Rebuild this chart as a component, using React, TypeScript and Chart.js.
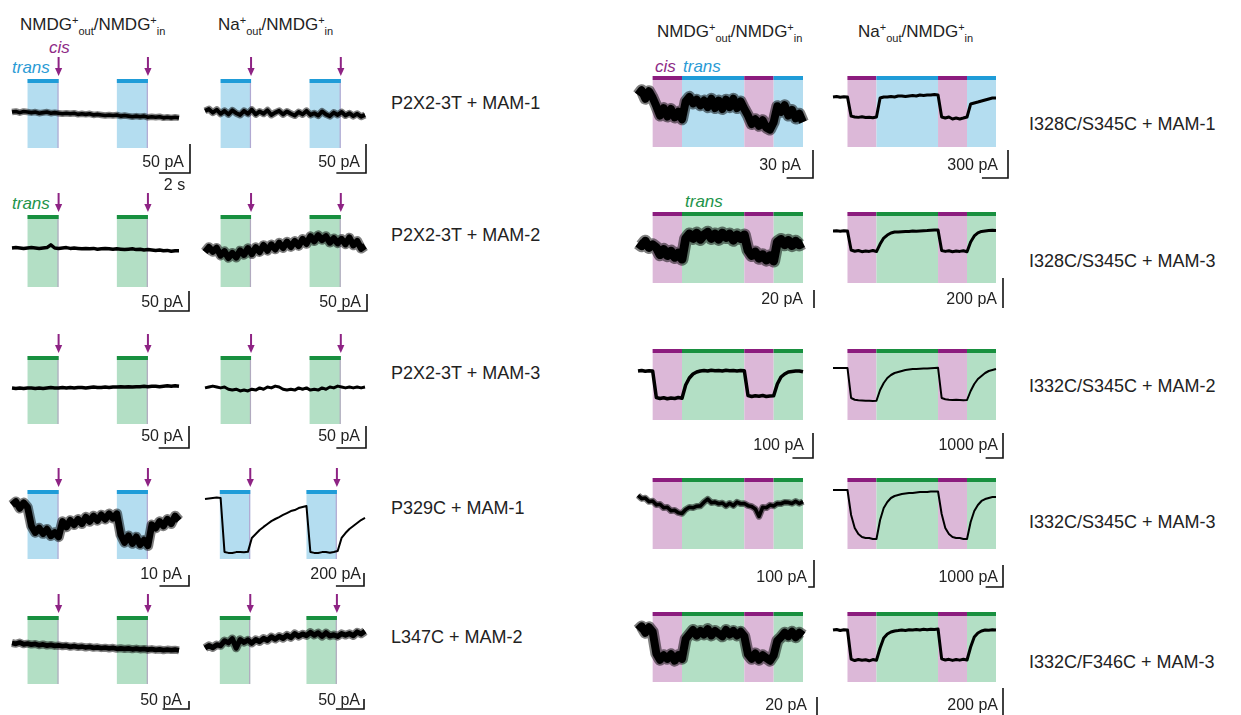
import React, { useEffect, useRef } from 'react';
import { Chart, registerables } from 'chart.js';
Chart.register(...registerables);

const FONT = '"Liberation Sans", Arial, Helvetica, sans-serif';
const COL = {
  blueFill: '#b4ddf0', blueBar: '#1f9cd8',
  greenFill: '#b3dfc5', greenBar: '#18903f',
  pinkFill: '#dcb8d8', purpleBar: '#8c1c7e',
  arrow: '#8e2384', edge: 'rgba(175,125,185,0.55)', ink: '#222',
  cis: '#8e2a86', transBlue: '#2b9bd5', transGreen: '#23944a',
};

// sampling interval of all traces (s)
const DT = 0.25;

// stimulus windows, seconds
const stimLeftA = [[1.0, 3.0], [6.75, 8.75]];
const stimLeftB = [[1.0, 2.95], [6.7, 8.7]];
const stimLeftB45 = [[0.95, 2.9], [6.5, 8.45]];
const segStart = [1.0, 3.0, 7.25, 9.25];
const segEnd = [3.0, 7.25, 9.25, 11.25];
const segKind = ['cis', 'trans', 'cis', 'trans'];

// row labels
const leftLabels = ['P2X2-3T + MAM-1', 'P2X2-3T + MAM-2', 'P2X2-3T + MAM-3', 'P329C + MAM-1', 'L347C + MAM-2'];
const rightLabels = ['I328C/S345C + MAM-1', 'I328C/S345C + MAM-3', 'I332C/S345C + MAM-2', 'I332C/S345C + MAM-3', 'I332C/F346C + MAM-3'];

// scale bar values (pA)
const scaleLeftA = [50, 50, 50, 10, 50];
const scaleLeftB = [50, 50, 50, 200, 50];
const scaleRightC = [30, 20, 100, 100, 20];
const scaleRightD = [300, 200, 1000, 1000, 200];

// current traces, pA, sampled every DT
const r1a = [0,1,-1,1,0,-1,0,-2,-1,0,-2,-1,-2,-3,-2,-3,-2,-4,-3,-4,-3,-5,-4,-5,-6,-5,-6,-5,-7,-6,-7,-8,-7,-8,-7,-9,-8,-9,-8,-10,-9,-10,-9,-10];
const r1b = [2,5,-1,4,-3,2,-4,3,-2,-5,2,-3,4,-4,1,-3,3,-5,-1,2,-4,1,-3,-6,0,-4,2,-5,-2,-6,1,-4,-7,-1,-5,0,-6,-2,-7,-3,-8,-5];
const r2a = [0,1,0,-1,0,1,0,-1,0,1,8,0,-1,0,1,-1,0,-1,-2,-1,-2,-1,-3,-2,-1,-2,-3,-2,-3,-4,-3,-2,-4,-3,-5,-4,-5,-6,-5,-7,-6,-8,-7,-7];
const r2b = [0,14,1,12,-10,2,-17,-3,-16,4,-8,11,-6,14,0,20,4,22,8,27,12,30,15,32,18,38,24,46,32,49,36,46,28,40,26,38,23,42,20,32,10,18];
const r3a = [0,-1,0,-1,0,0,-1,0,-1,0,1,0,0,1,0,1,0,1,1,0,1,2,1,1,2,1,2,2,3,2,3,2,3,3,4,3,4,4,3,4,5,4,5,4];
const r3b = [-2,0,2,0,-2,0,-5,-7,-5,-9,-7,-9,-5,-7,-2,-5,0,-2,2,0,-5,-7,-5,-7,-2,-5,-2,-7,-5,-7,-2,-5,0,-2,2,0,-2,0,-2,0,-2,0];
const r4a = [0,3,-3,2,-2,-19,-25,-21,-26,-22,-28,-25,-29,-15,-20,-14,-18,-13,-17,-11,-15,-10,-14,-9,-13,-8,-12,-8,-27,-34,-28,-35,-29,-36,-32,-37,-18,-21,-15,-19,-13,-17,-10,-14];
const r4b = [0,8,15,23,15,-816,-830,-832,-818,-815,-820,-814,-600,-540,-478,-430,-385,-340,-308,-278,-246,-216,-186,-170,-140,-124,-108,-816,-830,-832,-818,-815,-828,-816,-800,-600,-524,-462,-416,-370,-324,-292];
const r5a = [0,-5,3,-8,-4,-10,-6,-14,-9,-16,-12,-18,-15,-20,-17,-24,-19,-25,-22,-28,-24,-30,-27,-32,-29,-34,-30,-36,-33,-37,-34,-39,-35,-40,-37,-42,-38,-43,-40,-45,-41,-44,-42,-46];
const r5b = [0,12,2,16,12,36,26,46,0,42,28,40,24,42,32,48,38,56,44,58,48,64,52,72,58,70,62,78,64,76,58,76,60,66,58,72,64,72,62,80,70,84];

const r1c = [0,5,-4,4,-3,-12,-22,-14,-23,-15,-24,-18,-26,-7,-2,-9,-5,-11,-6,-13,-4,-14,-6,-15,-5,-13,-4,-14,-7,-15,-22,-31,-26,-33,-27,-35,-37,-29,-12,-18,-11,-22,-16,-25,-20,-29];
const r1d = [0,5,-3,2,0,-205,-214,-218,-212,-220,-216,-222,-214,-11,0,0,5,0,11,11,5,11,16,11,21,16,21,21,27,21,-214,-225,-214,-235,-225,-235,-225,-214,-75,-64,-54,-43,-32,-21,-11,-11];
const r2c = [0,-3,2,-5,-2,-5,-13,-7,-14,-9,-16,-11,-18,5,10,5,11,4,9,12,5,10,4,11,6,10,3,9,5,9,-8,-14,-10,-17,-13,-19,-14,-20,1,4,-2,3,-3,2,-2,0];
const r2d = [0,1,-1,2,0,-127,-135,-130,-138,-133,-136,-130,-137,-87,-47,-27,-13,-7,-7,-5,-3,-3,0,-2,0,2,3,5,6,7,-130,-136,-132,-138,-134,-136,-132,-138,-73,-33,-13,-3,0,3,5,4];
const r3c = [0,2,-1,1,0,-106,-110,-107,-111,-108,-110,-106,-109,-56,-28,-12,-4,0,2,0,3,1,2,0,3,1,2,0,2,1,-98,-102,-99,-101,-98,-102,-100,-99,-52,-24,-12,-4,-2,0,0,-3];
const r3d = [0,0,4,0,0,-1200,-1270,-1290,-1300,-1310,-1310,-1320,-1310,-880,-600,-400,-280,-200,-160,-120,-80,-60,-40,-40,-30,-20,-20,-10,0,10,-1200,-1250,-1270,-1280,-1270,-1280,-1290,-1280,-920,-640,-440,-320,-200,-120,-80,-40];
const r4c = [6,-6,-4,-17,-15,-29,-27,-40,-38,-51,-49,-58,-61,-46,-38,-40,-34,-33,-19,-8,-21,-19,-25,-22,-33,-23,-32,-19,-25,-24,-32,-35,-44,-72,-38,-40,-30,-33,-24,-25,-19,-20,-24,-16,-24,-17];
const r4d = [0,-5,0,5,0,-1138,-1729,-2002,-2139,-2184,-2184,-2230,-2230,-1365,-819,-546,-364,-273,-228,-182,-159,-137,-137,-114,-91,-91,-91,-68,-68,-68,-1092,-1729,-2002,-2139,-2184,-2184,-2230,-2230,-1456,-956,-683,-500,-410,-364,-319,-319];
const r5c = [0,4,-3,3,-2,-26,-33,-28,-32,-27,-34,-28,-32,-10,-5,0,-6,-1,-5,1,-6,-1,-4,-7,0,-5,-1,-6,-2,-7,-27,-32,-26,-33,-28,-31,-34,-28,-12,-8,-3,-7,-2,-8,-3,-6];
const r5d = [0,4,-4,2,0,-215,-226,-218,-224,-220,-228,-219,-224,-133,-59,-30,-15,-7,-4,0,-3,2,0,4,0,5,2,6,4,7,-214,-222,-217,-225,-218,-223,-216,-222,-126,-52,-22,-7,0,-2,2,0];

type Panel = {
  key: string; side: 'L' | 'R';
  left: number; top: number; width: number; height: number;
  tEnd: number; yMin: number; yMax: number;
  trace: number[]; lw: number;
  stim: number[][]; sol: 'blue' | 'green';
  scale: number; hSec: number; timeText?: string;
  dx: number; dy: number; gap: number; ldy: number;
};

const LA = { left: 12, width: 167, tEnd: 10.75 };
const LB = { left: 205, width: 160, tEnd: 10.25 };
const RC = { left: 638, width: 165, tEnd: 11.25 };
const RD = { left: 833, width: 163, tEnd: 11.25 };

const panels: Panel[] = [
  // left column A
  { key: 'r1a', side: 'L', ...LA, top: 79, height: 69, yMin: -62, yMax: 57, trace: r1a, lw: 4.5, stim: stimLeftA, sol: 'blue', scale: scaleLeftA[0], hSec: 2, timeText: '2 s', dx: 11, dy: 25, gap: 6, ldy: -12 },
  { key: 'r2a', side: 'L', ...LA, top: 215, height: 72, yMin: -97.5, yMax: 82.5, trace: r2a, lw: 3.5, stim: stimLeftA, sol: 'green', scale: scaleLeftA[1], hSec: 1.95, dx: 10, dy: 24, gap: 6, ldy: -10 },
  { key: 'r3a', side: 'L', ...LA, top: 356, height: 68, yMin: -81.7, yMax: 72.6, trace: r3a, lw: 3.5, stim: stimLeftA, sol: 'green', scale: scaleLeftA[2], hSec: 1.95, dx: 10, dy: 24, gap: 6, ldy: -13 },
  { key: 'r4a', side: 'L', ...LA, top: 490, height: 69, yMin: -49.1, yMax: 13.65, trace: r4a, lw: 8.5, stim: stimLeftA, sol: 'blue', scale: scaleLeftA[3], hSec: 1.9, dx: 10, dy: 27, gap: 7, ldy: -13 },
  { key: 'r5a', side: 'L', ...LA, top: 616, height: 68, yMin: -256, yMax: 168.75, trace: r5a, lw: 6, stim: stimLeftA, sol: 'green', scale: scaleLeftA[4], hSec: 1.7, dx: 10, dy: 25, gap: 7, ldy: -10 },
  // left column B
  { key: 'r1b', side: 'L', ...LB, top: 79, height: 69, yMin: -62, yMax: 57, trace: r1b, lw: 5, stim: stimLeftB, sol: 'blue', scale: scaleLeftB[0], hSec: 1.9, dx: 1, dy: 25, gap: 6, ldy: -12 },
  { key: 'r2b', side: 'L', ...LB, top: 215, height: 72, yMin: -102.9, yMax: 108.8, trace: r2b, lw: 8, stim: stimLeftB, sol: 'green', scale: scaleLeftB[1], hSec: 1.9, dx: 2, dy: 24, gap: 6, ldy: -10 },
  { key: 'r3b', side: 'L', ...LB, top: 356, height: 68, yMin: -84, yMax: 70.4, trace: r3b, lw: 3, stim: stimLeftB, sol: 'green', scale: scaleLeftB[2], hSec: 1.9, dx: 1, dy: 24, gap: 6, ldy: -13 },
  { key: 'r4b', side: 'L', ...LB, top: 490, height: 69, yMin: -924, yMax: 138.6, trace: r4b, lw: 2, stim: stimLeftB45, sol: 'blue', scale: scaleLeftB[3], hSec: 1.8, dx: -1, dy: 27, gap: 3, ldy: -13 },
  { key: 'r5b', side: 'L', ...LB, top: 616, height: 68, yMin: -180, yMax: 160, trace: r5b, lw: 6.5, stim: stimLeftB45, sol: 'green', scale: scaleLeftB[4], hSec: 1.8, dx: -1, dy: 25, gap: 4, ldy: -10 },
  // right column C
  { key: 'r1c', side: 'R', ...RC, top: 76, height: 71, yMin: -55.6, yMax: 20.3, trace: r1c, lw: 10, stim: [], sol: 'blue', scale: scaleRightC[0], hSec: 1.8, dx: 10, dy: 31, gap: 12, ldy: -14 },
  { key: 'r2c', side: 'R', ...RC, top: 212, height: 71, yMin: -44.4, yMax: 34.4, trace: r2c, lw: 11, stim: [], sol: 'green', scale: scaleRightC[1], hSec: 0, dx: 11, dy: 25, gap: 11, ldy: -10 },
  { key: 'r3c', side: 'R', ...RC, top: 349, height: 71, yMin: -196, yMax: 88, trace: r3c, lw: 3.5, stim: [], sol: 'green', scale: scaleRightC[2], hSec: 1.4, dx: 10, dy: 38, gap: 9, ldy: -14 },
  { key: 'r4c', side: 'R', ...RC, top: 478, height: 71, yMin: -192.4, yMax: 70.3, trace: r4c, lw: 4.5, stim: [], sol: 'green', scale: scaleRightC[3], hSec: 0.4, dx: 11, dy: 38, gap: 7, ldy: -11 },
  { key: 'r5c', side: 'R', ...RC, top: 612, height: 70, yMin: -57.7, yMax: 20, trace: r5c, lw: 10, stim: [], sol: 'green', scale: scaleRightC[4], hSec: 0, dx: 14, dy: 33, gap: 10, ldy: -11 },
  // right column D
  { key: 'r1d', side: 'R', ...RD, top: 76, height: 71, yMin: -535, yMax: 224.7, trace: r1d, lw: 3, stim: [], sol: 'blue', scale: scaleRightD[0], hSec: 1.8, dx: 12, dy: 31, gap: 10, ldy: -14 },
  { key: 'r2d', side: 'R', ...RD, top: 212, height: 71, yMin: -346.8, yMax: 126.7, trace: r2d, lw: 3, stim: [], sol: 'green', scale: scaleRightD[1], hSec: 0, dx: 7, dy: 25, gap: 6, ldy: -10 },
  { key: 'r3d', side: 'R', ...RD, top: 349, height: 71, yMin: -2080, yMax: 760, trace: r3d, lw: 2, stim: [], sol: 'green', scale: scaleRightD[2], hSec: 1.2, dx: 7, dy: 38, gap: 5, ldy: -14 },
  { key: 'r4d', side: 'R', ...RD, top: 478, height: 71, yMin: -2684.5, yMax: 546, trace: r4d, lw: 2, stim: [], sol: 'green', scale: scaleRightD[3], hSec: 1.2, dx: 7, dy: 38, gap: 5, ldy: -11 },
  { key: 'r5d', side: 'R', ...RD, top: 612, height: 70, yMin: -384.8, yMax: 133.2, trace: r5d, lw: 3, stim: [], sol: 'green', scale: scaleRightD[4], hSec: 0, dx: 7, dy: 33, gap: 5, ldy: -11 },
];

const PAD = { left: 12, right: 34, top: 30, bottom: 52 };

function drawArrow(ctx: CanvasRenderingContext2D, x: number, y0: number, y1: number) {
  ctx.strokeStyle = COL.arrow;
  ctx.fillStyle = COL.arrow;
  ctx.lineWidth = 2;
  ctx.beginPath();
  ctx.moveTo(x, y0);
  ctx.lineTo(x, y1 - 6);
  ctx.stroke();
  ctx.beginPath();
  ctx.moveTo(x - 3.6, y1 - 8);
  ctx.lineTo(x + 3.6, y1 - 8);
  ctx.lineTo(x, y1);
  ctx.closePath();
  ctx.fill();
}

function makePlugin(p: Panel) {
  return {
    id: 'panel_' + p.key,
    beforeDatasetsDraw(chart: any) {
      const { ctx, chartArea: a, scales } = chart;
      const x = scales.x;
      const h = a.bottom - a.top;
      const transFill = p.sol === 'blue' ? COL.blueFill : COL.greenFill;
      const transBar = p.sol === 'blue' ? COL.blueBar : COL.greenBar;
      ctx.save();
      if (p.side === 'L') {
        p.stim.forEach(([t0, t1]) => {
          const x0 = x.getPixelForValue(t0);
          const x1 = x.getPixelForValue(t1);
          ctx.fillStyle = transFill;
          ctx.fillRect(x0, a.top, x1 - x0, h);
          ctx.fillStyle = COL.edge;
          ctx.fillRect(x1 - 1.2, a.top, 1.2, h);
          ctx.fillStyle = transBar;
          ctx.fillRect(x0, a.top, x1 - x0, 4);
          drawArrow(ctx, x1, a.top - 22, a.top - 3);
        });
      } else {
        segStart.forEach((t0, i) => {
          const x0 = x.getPixelForValue(t0);
          const x1 = x.getPixelForValue(segEnd[i]);
          const cis = segKind[i] === 'cis';
          ctx.fillStyle = cis ? COL.pinkFill : transFill;
          ctx.fillRect(x0, a.top, x1 - x0, h);
          ctx.fillStyle = cis ? COL.purpleBar : transBar;
          ctx.fillRect(x0, a.top, x1 - x0, 4);
        });
      }
      ctx.restore();
    },
    afterDatasetsDraw(chart: any) {
      const { ctx, chartArea: a, scales } = chart;
      const x = scales.x;
      const y = scales.y;
      const xb = a.right + p.dx;
      const yb = a.bottom + p.dy;
      const len = y.getPixelForValue(0) - y.getPixelForValue(p.scale);
      const hl = p.hSec > 0 ? x.getPixelForValue(p.hSec) - x.getPixelForValue(0) : 0;
      ctx.save();
      ctx.strokeStyle = '#111';
      ctx.lineWidth = 1.6;
      ctx.lineCap = 'butt';
      ctx.beginPath();
      ctx.moveTo(xb, yb - len);
      ctx.lineTo(xb, yb);
      if (hl > 0) ctx.lineTo(xb - hl, yb);
      ctx.stroke();
      ctx.fillStyle = COL.ink;
      ctx.font = '16px ' + FONT;
      ctx.textAlign = 'right';
      ctx.textBaseline = 'alphabetic';
      ctx.fillText(p.scale + ' pA', xb - p.gap, yb + p.ldy + 6);
      if (p.timeText) {
        ctx.textAlign = 'center';
        ctx.fillText(p.timeText, xb - hl / 2, yb + 17);
      }
      ctx.restore();
    },
  };
}

function PanelChart({ p }: { p: Panel }) {
  const ref = useRef<HTMLCanvasElement>(null);
  const W = p.width + PAD.left + PAD.right;
  const H = p.height + PAD.top + PAD.bottom;
  useEffect(() => {
    const data = p.trace.map((v, i) => ({ x: i * DT, y: v }));
    const noisy = p.lw >= 4.5;
    const common = { pointRadius: 0, tension: 0, clip: false, fill: false, borderJoinStyle: 'round', borderCapStyle: 'butt' };
    const datasets: any[] = noisy
      ? [
          { ...common, data, borderColor: 'rgba(0,0,0,0.5)', borderWidth: p.lw + 2 },
          { ...common, data, borderColor: '#000', borderWidth: p.lw * 0.8 },
        ]
      : [{ ...common, data, borderColor: '#000', borderWidth: p.lw }];
    const chart = new Chart(ref.current as HTMLCanvasElement, {
      type: 'line',
      data: { datasets },
      options: {
        animation: false, responsive: false, devicePixelRatio: 1, events: [],
        layout: { padding: PAD },
        scales: {
          x: { type: 'linear', min: 0, max: p.tEnd, display: false },
          y: { type: 'linear', min: p.yMin, max: p.yMax, display: false },
        },
        plugins: { legend: { display: false }, tooltip: { enabled: false } },
      },
      plugins: [makePlugin(p) as any],
    });
    return () => chart.destroy();
  }, [p]);
  return (
    <canvas ref={ref} width={W} height={H}
      style={{ position: 'absolute', left: p.left - PAD.left, top: p.top - PAD.top, width: W, height: H }} />
  );
}

const sup: React.CSSProperties = { fontSize: 11, position: 'relative', top: -6 };
const sub: React.CSSProperties = { fontSize: 11, position: 'relative', top: 5 };

function Header({ x, base, ion }: { x: number; base: number; ion: string }) {
  return (
    <div style={{ position: 'absolute', left: x, top: base - 14.4, fontSize: 17, lineHeight: '17px', whiteSpace: 'nowrap', color: COL.ink }}>
      {ion}<span style={sup}>+</span><span style={sub}>out</span>/NMDG<span style={sup}>+</span><span style={sub}>in</span>
    </div>
  );
}

function Label({ x, base, text, size = 18, color = COL.ink, italic = false }:
  { x: number; base: number; text: string; size?: number; color?: string; italic?: boolean }) {
  return (
    <div style={{ position: 'absolute', left: x, top: base - 0.846 * size, fontSize: size, lineHeight: size + 'px', whiteSpace: 'nowrap', color, fontStyle: italic ? 'italic' : 'normal' }}>
      {text}
    </div>
  );
}

const leftBase = [109, 241, 379, 514, 643];
const rightBase = [130, 267, 392, 528, 668];

export default function App() {
  return (
    <div style={{ position: 'absolute', left: 0, top: 0, width: 1241, height: 715, overflow: 'hidden', background: '#fff', fontFamily: FONT }}>
      <Header x={20} base={30} ion="NMDG" />
      <Header x={218} base={30} ion="Na" />
      <Header x={657} base={37} ion="NMDG" />
      <Header x={858} base={37} ion="Na" />
      <Label x={49} base={53} text="cis" size={17} color={COL.cis} italic />
      <Label x={12} base={73} text="trans" size={17} color={COL.transBlue} italic />
      <Label x={12} base={209} text="trans" size={17} color={COL.transGreen} italic />
      <Label x={655} base={72} text="cis" size={17} color={COL.cis} italic />
      <Label x={683} base={72} text="trans" size={17} color={COL.transBlue} italic />
      <Label x={685} base={207} text="trans" size={17} color={COL.transGreen} italic />
      {leftLabels.map((t, i) => <Label key={'l' + i} x={391} base={leftBase[i]} text={t} />)}
      {rightLabels.map((t, i) => <Label key={'r' + i} x={1029} base={rightBase[i]} text={t} />)}
      {panels.map((p) => <PanelChart key={p.key} p={p} />)}
    </div>
  );
}
